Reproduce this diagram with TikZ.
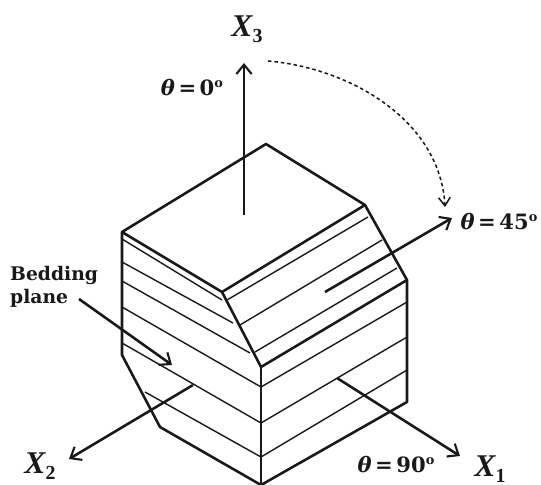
\documentclass[tikz,border=0pt]{standalone}
\usepackage{fontspec}
\setmainfont{DejaVu Serif}
\newfontfamily\axisfont{Liberation Serif}
\usetikzlibrary{arrows.meta}

% axis name with its number lowered
\newcommand{\axisname}[1]{{\axisfont\bfseries\itshape X}\raisebox{-5pt}{\axisfont\bfseries\fontsize{17}{19}\selectfont #1}}
% angle with a small raised o
\newcommand{\anglename}[1]{{\itshape θ}\,=\,#1\raisebox{7pt}{\fontsize{11}{13}\selectfont o}}

\begin{document}
\begin{tikzpicture}[x=0.03cm,y=-0.03cm,
  thinline/.style={inkline, line width=1.2pt},
  thickline/.style={inkline, line width=2.2pt, line join=round},
  axisline/.style={inkline, line width=2.2pt, -{Straight Barb[length=8pt,width=13pt,line width=1.8pt]}},
  axislabel/.style={inkline, font=\fontsize{27}{29}\selectfont, inner sep=0pt},
  anglelabel/.style={inkline, font=\fontsize{18}{21}\selectfont\bfseries, inner sep=0pt},
  notelabel/.style={inkline, font=\fontsize{16}{19.5}\selectfont\bfseries, inner sep=0pt}]

% === Colors ===
\definecolor{inkline}{RGB}{25,25,25}

\useasboundingbox (0,0) rectangle (541,485);

% === Bedding planes, left face ===
\foreach \xa/\ya/\xb/\yb in {
  122/239/222/300,
  122/262/233/323,
  122/281/250/353,
  122/307/261/387,
  122/343/261/423,
  145/392/261/457
}{
  \draw[thinline] (\xa,\ya) -- (\xb,\yb);
}

% === Bedding planes, right face ===
\foreach \xa/\ya/\xb/\yb in {
  227/300/368/217,
  240/325/382/240,
  255/352/397/268,
  261/387/407/302,
  261/423/407/337,
  261/457/407/370
}{
  \draw[thinline] (\xa,\ya) -- (\xb,\yb);
}

% === Block outline ===
\draw[thickline] (122,232) -- (266,144) -- (365,205) -- (407,280) -- (407,402)
  -- (261,485) -- (160,427) -- (122,355) -- cycle;
\draw[thickline] (122,232) -- (222,292) -- (365,205);
\draw[thickline] (222,292) -- (261,367) -- (407,280);
\draw[thickline] (261,367) -- (261,485);

% === Axes ===
\coordinate (x3start) at (244,215);
\coordinate (x3tip) at (244,63);
\coordinate (midstart) at (325,292);
\coordinate (midtip) at (452,218);
\coordinate (x1start) at (337,378);
\coordinate (x1tip) at (460,456);
\coordinate (x2start) at (193,385);
\coordinate (x2tip) at (69,459);
\coordinate (bedstart) at (79,299);
\coordinate (bedtip) at (172,365);

\draw[axisline] (x3start) -- (x3tip);
\draw[axisline] (midstart) -- (midtip);
\draw[axisline] (x1start) -- (x1tip);
\draw[axisline] (x2start) -- (x2tip);
\draw[axisline] (bedstart) -- (bedtip);

% === Rotation from 0 to 45 ===
\coordinate (arcstart) at (268,61);
\coordinate (arctip) at (445,207);
\draw[inkline, line width=1.3pt, dash pattern=on 3pt off 2.5pt, -{Straight Barb[length=7pt,width=10pt]}]
  (arcstart) .. controls (350,68) and (440,120) .. (arctip);

% === Labels ===
\node[axislabel] (labelxthree) at (247,29) {\axisname{3}};
\node[axislabel] (labelxone) at (490,469) {\axisname{1}};
\node[axislabel] (labelxtwo) at (40,466) {\axisname{2}};
\node[anglelabel] (labelzero) at (192,88) {\anglename{0}};
\node[anglelabel] (labelfortyfive) at (499,222) {\anglename{45}};
\node[anglelabel] (labelninety) at (396,465) {\anglename{90}};
\node[notelabel, align=left, anchor=west] (labelbedding) at (10,287) {Bedding\\plane};

\end{tikzpicture}
\end{document}
